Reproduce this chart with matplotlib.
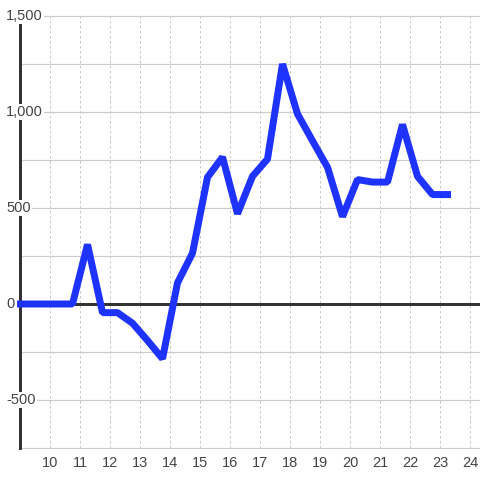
import matplotlib
matplotlib.use("Agg")
import matplotlib.pyplot as plt
import matplotlib.transforms as mtransforms

plt.rcParams['font.family'] = ['Liberation Sans', 'DejaVu Sans']

# ---- data ----
x_vals = [8.75, 9.25, 9.75, 10.25, 10.75, 11.25, 11.75, 12.25, 12.75, 13.25,
          13.75, 14.25, 14.75, 15.25, 15.75, 16.25, 16.75, 17.25, 17.75, 18.25,
          18.75, 19.25, 19.75, 20.25, 20.75, 21.25, 21.75, 22.25, 22.75, 23.25]
y_vals = [0, 0, 0, 0, 0, 310, -45, -45, -100, -190,
          -285, 110, 265, 660, 765, 470, 665, 755, 1250, 990,
          850, 712, 455, 648, 635, 635, 935, 665, 570, 570]
x_ticks = list(range(10, 25))
x_tick_labels = [str(t) for t in x_ticks]
y_grid = [-750, -500, -250, 250, 500, 750, 1000, 1250, 1500]
y_label_vals = [1500, 1000, 500, 0, -500]
y_label_text = ['1,500', '1,000', '500', '0', '-500']

W = H = 480
fig = plt.figure(figsize=(4.8, 4.8), dpi=100)
ax = fig.add_axes([17 / W, 32 / H, 463 / W, 432 / H])
ax.set_xlim(8.9, 9 + 460 / 30)
ax.set_ylim(-750, 1500)

px = 72 / 100  # points per pixel

for s in ['top', 'right', 'bottom']:
    ax.spines[s].set_visible(False)
ax.spines['left'].set_position(('data', 9))
ax.spines['left'].set_color('#333333')
ax.spines['left'].set_linewidth(3 * px)
ax.spines['left'].set_zorder(2.5)

ax.set_xticks(x_ticks)
ax.set_xticklabels(x_tick_labels)
ax.tick_params(axis='x', length=0, pad=6, labelsize=10.5, colors='#444444')
ax.set_yticks([])
ax.grid(axis='x', color='#c8c8c8', linestyle=(0, (2.5, 2.5)), linewidth=1 * px)
ax.set_axisbelow(True)

xmax = ax.get_xlim()[1]
ax.hlines(y_grid, 9, xmax, colors='#cccccc', linewidth=1.2 * px, zorder=1, clip_on=False)
ax.hlines([0], 9, xmax, colors='#333333', linewidth=3 * px, zorder=2)

ax.plot(x_vals, y_vals, color='#1f33ff', linewidth=7 * px,
        solid_capstyle='projecting', solid_joinstyle='bevel', zorder=3)

trans = mtransforms.blended_transform_factory(fig.transFigure, ax.transData)
for v, t in zip(y_label_vals, y_label_text):
    ax.text(6 / W, v, t, transform=trans, ha='left', va='center', fontsize=10.5,
            color='#444444', zorder=5, clip_on=False,
            bbox=dict(facecolor='white', edgecolor='none', pad=1.0))

fig.savefig('out.png', dpi=100, facecolor='white')
